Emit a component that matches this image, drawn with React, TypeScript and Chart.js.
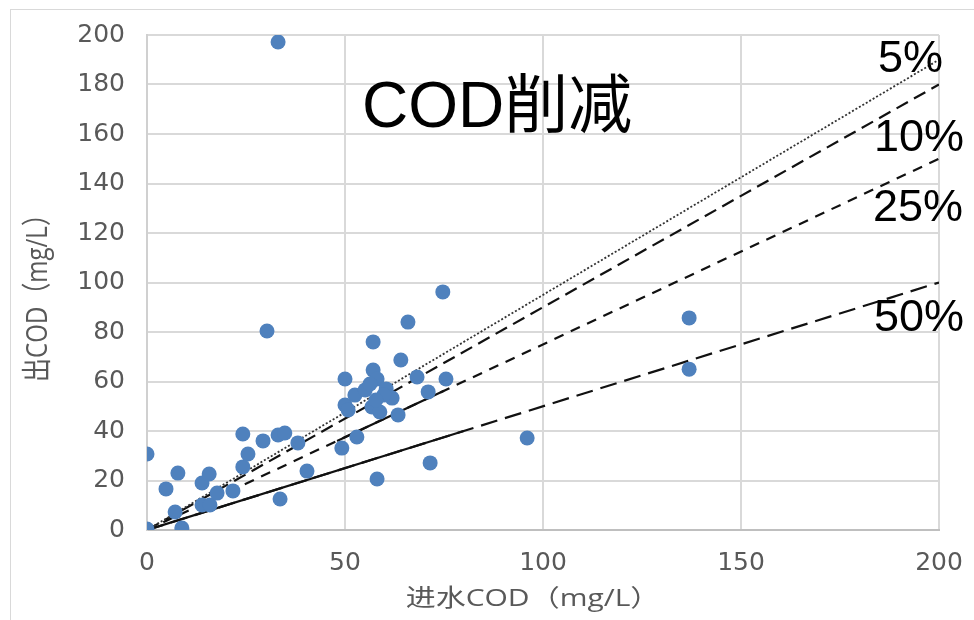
import React, { useEffect, useRef } from "react";
import { Chart, registerables } from "chart.js";

Chart.register(...registerables);

// Influent COD (x) and effluent COD (y), mg/L
const inflowCOD = [
  0, 0, 4.8, 7.8, 7.1, 8.8, 13.9, 15.7, 13.9, 15.9, 17.7, 21.7, 24.2, 24.2, 25.5,
  29.3, 30.3, 33.1, 33.1, 34.8, 33.6, 38.1, 40.4, 50, 50, 50.8, 49.2, 53, 52.5,
  55.1, 57.1, 57.1, 58.1, 60.4, 61.9, 56.8, 58.8, 63.4, 64.1, 65.9, 68.2, 71,
  74.7, 75.5, 58.1, 71.5, 96, 136.9, 136.9, 56.3, 59.8, 57.8,
];
const outflowCOD = [
  30.7, 0.4, 16.6, 23, 7.3, 0.8, 19, 22.6, 10.1, 10.1, 14.9, 15.8, 38.8, 25.5, 30.7,
  36, 80.4, 197.2, 38.4, 39.2, 12.5, 35.2, 23.8, 61, 50.5, 48.5, 33.1, 37.6, 54.5,
  56.6, 76, 64.6, 61, 57, 53.3, 49.7, 47.7, 46.5, 68.7, 84, 61.8, 55.8,
  96.2, 61, 20.6, 27.1, 37.2, 85.7, 65, 59, 54.5, 52.5,
];

// Reference reduction lines: effluent = (1 - r) * influent
const lineX = [0, 200];
const line5 = [0, 190];
const line10 = [0, 180];
const line25 = [0, 150];
const line50 = [0, 100];
// solid stretches seen on the 25% and 50% lines
const solid25X = [48, 75];
const solid25Y = [36, 56.25];
const solid50X = [0, 80];
const solid50Y = [0, 40];

const xTicks = [0, 50, 100, 150, 200];
const yTicks = [0, 20, 40, 60, 80, 100, 120, 140, 160, 180, 200];
const lineLabels = ["5%", "10%", "25%", "50%"];
const chartTitle = "COD削减";
const xTitle = "进水COD（mg/L）";
const yTitle = "出COD（mg/L）";

const toXY = (xs: number[], ys: number[]) => xs.map((x, i) => ({ x, y: ys[i] }));

const textPlugin = {
  id: "textAnnotations",
  afterDraw(chart: any) {
    const ctx = chart.ctx as CanvasRenderingContext2D;
    ctx.save();
    // chart title
    ctx.fillStyle = "#000";
    ctx.textAlign = "left";
    ctx.textBaseline = "alphabetic";
    ctx.font = '64px "Liberation Sans", Arial, "Noto Sans CJK SC", sans-serif';
    ctx.fillText(chartTitle, 362, 127);
    // percent labels
    ctx.font = '45px "Liberation Sans", Arial, sans-serif';
    const pos = [
      [878, 72],
      [874, 151],
      [873, 221],
      [874, 331],
    ];
    lineLabels.forEach((t, i) => ctx.fillText(t, pos[i][0], pos[i][1]));
    // axis titles (the original is slightly stretched horizontally)
    ctx.fillStyle = "#595959";
    ctx.font = '24px "Open Sans", "Noto Sans CJK SC", sans-serif';
    ctx.textAlign = "center";
    ctx.textBaseline = "middle";
    ctx.save();
    ctx.translate(533, 599);
    ctx.scale(1.25, 1);
    ctx.fillText(xTitle, 0, 0);
    ctx.restore();
    ctx.save();
    ctx.translate(38, 292);
    ctx.scale(1.25, 1);
    ctx.rotate(-Math.PI / 2);
    ctx.fillText(yTitle, 0, 0);
    ctx.restore();
    ctx.restore();
  },
};

export default function App() {
  const ref = useRef<HTMLCanvasElement | null>(null);

  useEffect(() => {
    if (!ref.current) return;
    const lineBase = {
      type: "line" as const,
      showLine: true,
      pointRadius: 0,
      fill: false,
      tension: 0,
      borderColor: "#111",
      order: 2,
    };
    const tickFont = { size: 25, family: '"DejaVu Sans", sans-serif' };
    const chart = new Chart(ref.current, {
      type: "scatter",
      data: {
        datasets: [
          {
            label: "COD",
            data: toXY(inflowCOD, outflowCOD),
            backgroundColor: "#4f81bd",
            borderWidth: 0,
            pointRadius: 7.5,
            order: 0,
          },
          { ...lineBase, label: "5%", data: toXY(lineX, line5), borderWidth: 1.8, borderDash: [2, 2], borderColor: "#333" },
          { ...lineBase, label: "10%", data: toXY(lineX, line10), borderWidth: 2.2, borderDash: [13, 7] },
          { ...lineBase, label: "25%", data: toXY(lineX, line25), borderWidth: 2.2, borderDash: [10, 8] },
          { ...lineBase, label: "50%", data: toXY(lineX, line50), borderWidth: 2.2, borderDash: [17, 8] },
          { ...lineBase, label: "25% solid", data: toXY(solid25X, solid25Y), borderWidth: 2.2 },
          { ...lineBase, label: "50% solid", data: toXY(solid50X, solid50Y), borderWidth: 2.2 },
        ] as any,
      },
      options: {
        animation: false,
        responsive: true,
        maintainAspectRatio: false,
        layout: { padding: { left: 0, right: 35, top: 35, bottom: 0 } },
        plugins: { legend: { display: false }, tooltip: { enabled: false }, title: { display: false } },
        scales: {
          x: {
            type: "linear",
            min: 0,
            max: 200,
            afterBuildTicks: (s: any) => {
              s.ticks = xTicks.map((v) => ({ value: v }));
            },
            afterFit: (s: any) => {
              s.height = 90;
              s.paddingLeft = 0;
              s.paddingRight = 0;
            },
            ticks: {
              color: "#595959",
              font: tickFont,
              padding: 18,
              maxRotation: 0,
            },
            grid: { color: "#d9d9d9", lineWidth: 2, drawTicks: false },
            border: { color: "#bfbfbf", width: 2 },
          },
          y: {
            type: "linear",
            min: 0,
            max: 200,
            afterBuildTicks: (s: any) => {
              s.ticks = yTicks.map((v) => ({ value: v }));
            },
            afterFit: (s: any) => {
              s.width = 147;
              s.paddingTop = 0;
              s.paddingBottom = 0;
            },
            ticks: {
              color: "#595959",
              font: tickFont,
              padding: 22,
            },
            grid: { color: "#d9d9d9", lineWidth: 2, drawTicks: false },
            border: { color: "#d0d0d0", width: 2 },
          },
        },
      },
      plugins: [textPlugin],
    });
    return () => chart.destroy();
  }, []);

  return (
    <div style={{ position: "fixed", left: 0, top: 0, width: 974, height: 620, background: "#fff", overflow: "hidden" }}>
      <div
        style={{
          position: "absolute",
          left: 10,
          top: 9,
          width: 1100,
          height: 800,
          border: "1px solid #d9d9d9",
        }}
      />
      <div style={{ position: "absolute", left: 0, top: 0, width: 974, height: 620 }}>
        <canvas ref={ref} />
      </div>
    </div>
  );
}
